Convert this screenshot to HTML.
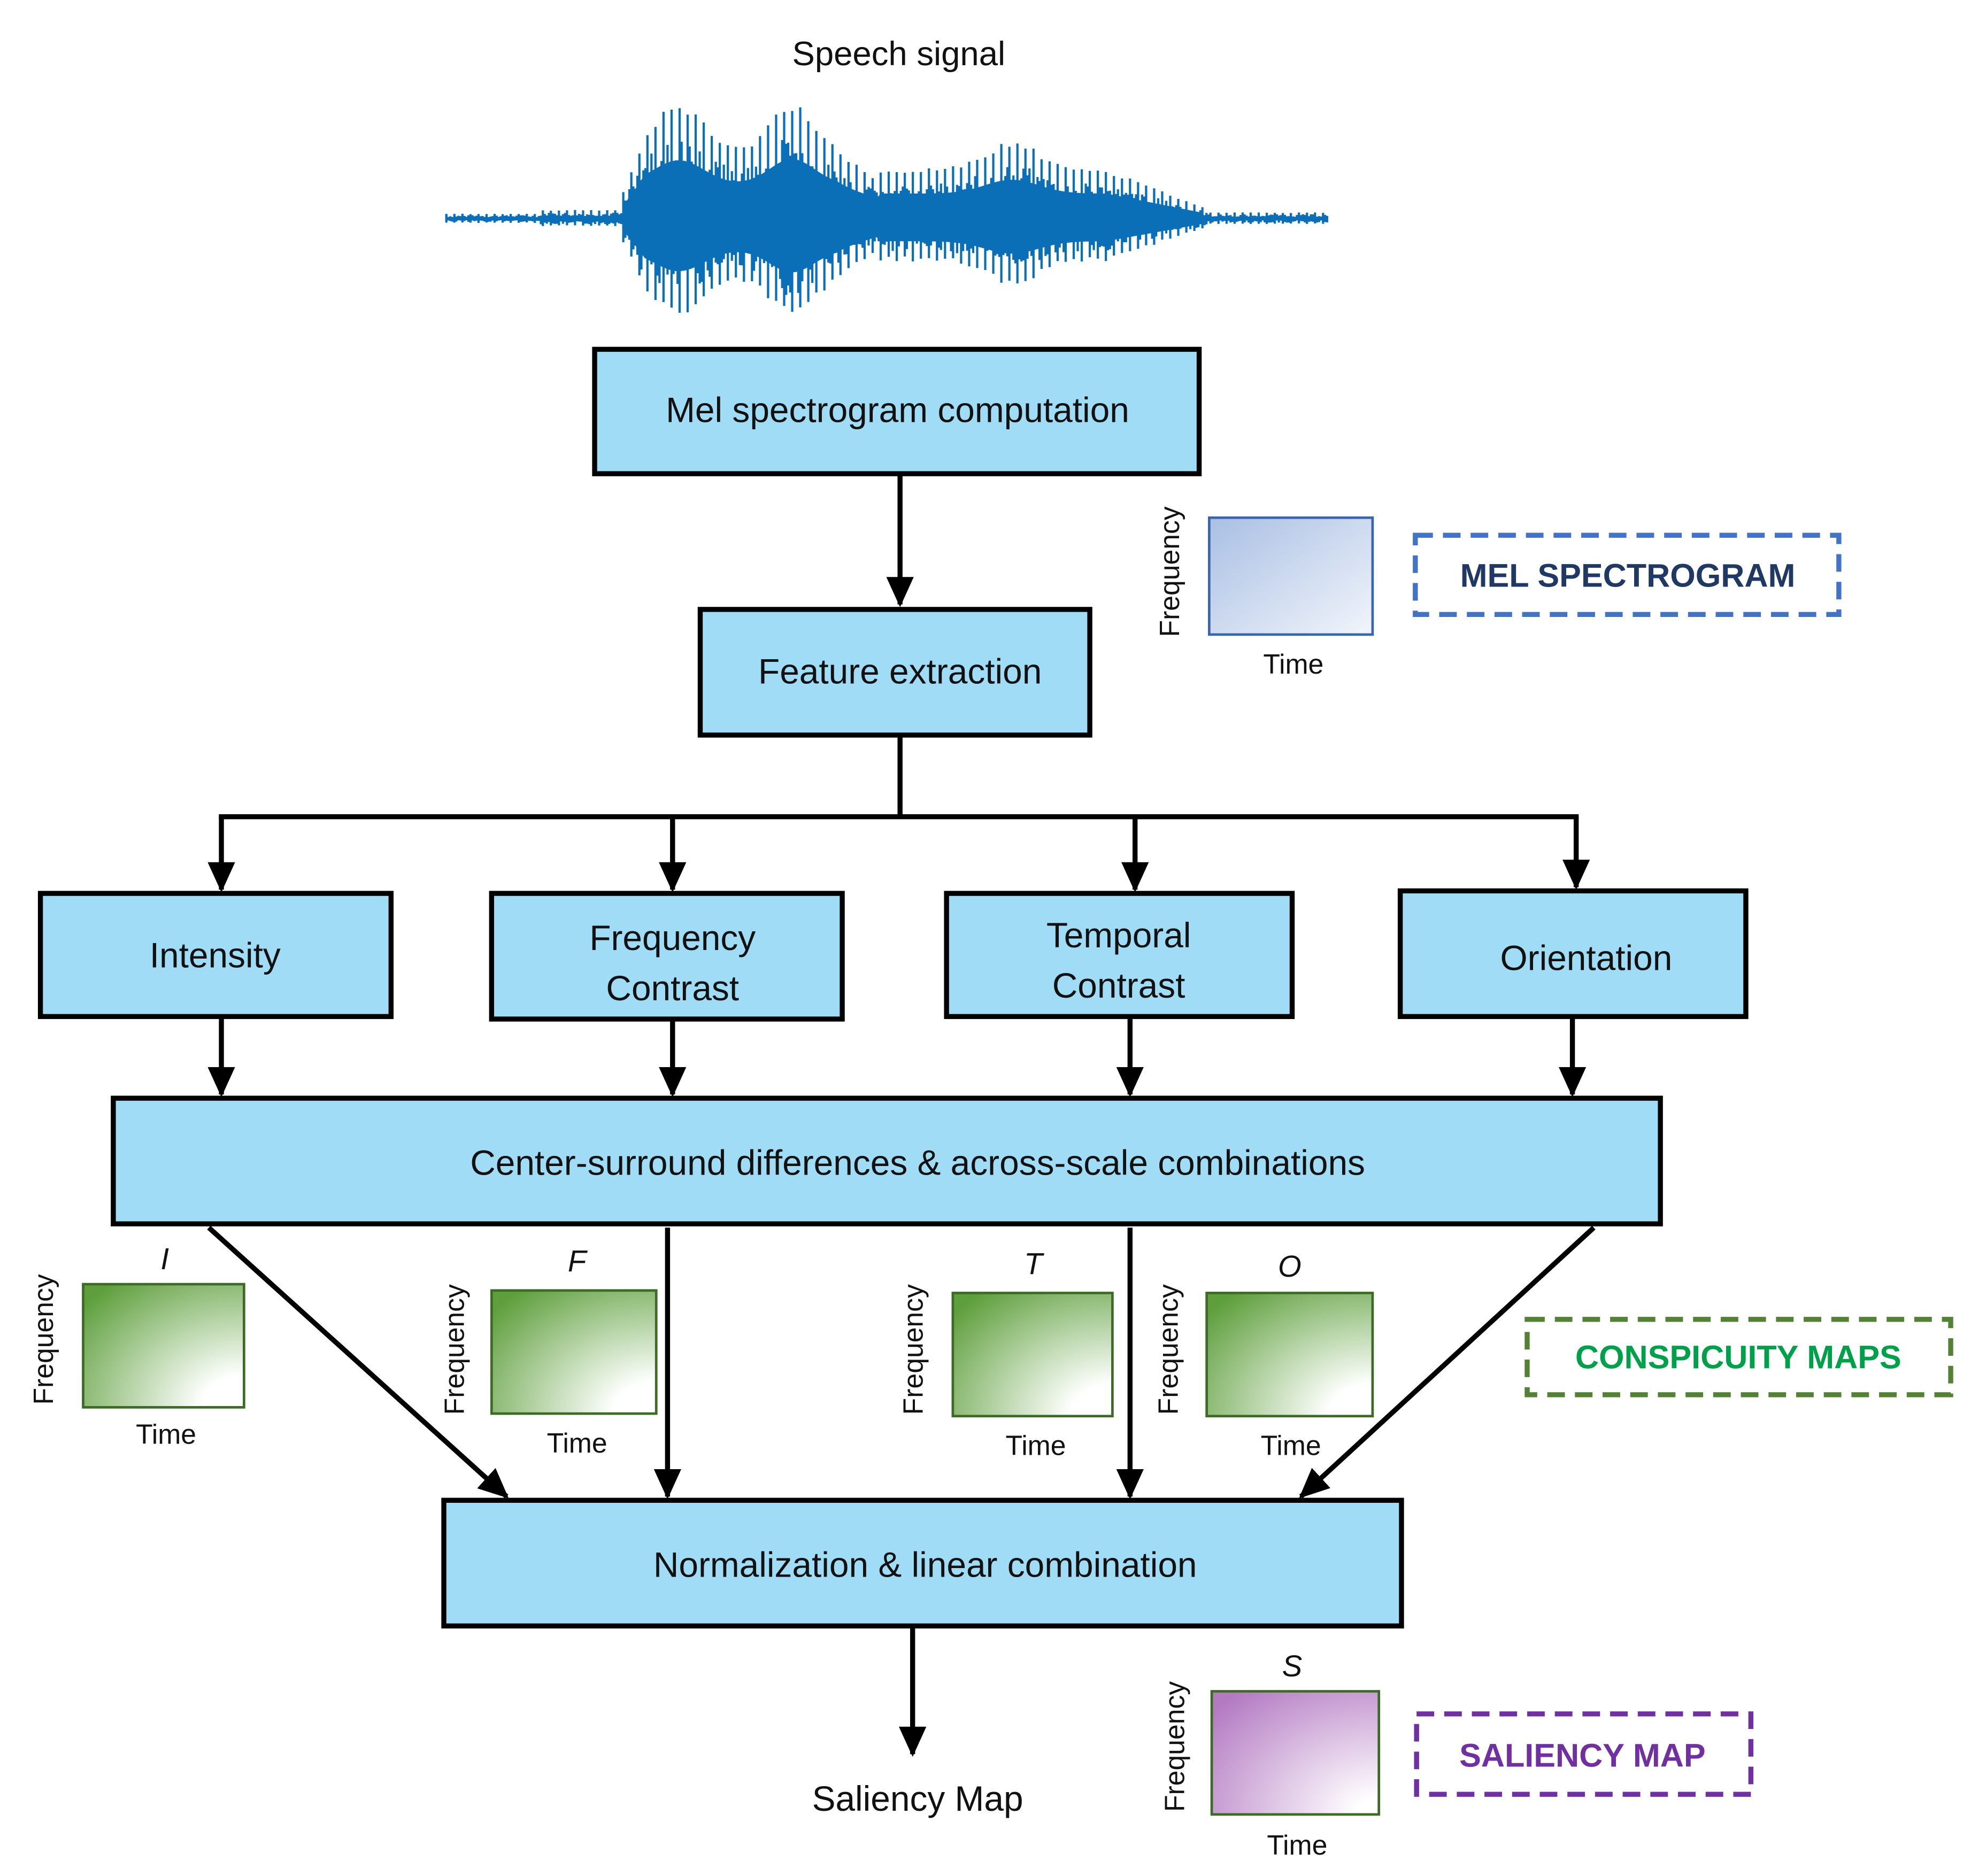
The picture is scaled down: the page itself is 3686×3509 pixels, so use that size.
<!DOCTYPE html>
<html><head><meta charset="utf-8"><style>
html,body{margin:0;padding:0;background:#fff}
svg{display:block}
text{font-family:"Liberation Sans",sans-serif;fill:#111}
</style></head><body>
<svg id="s" width="3686" height="3509" viewBox="0 0 1568 1493" xmlns="http://www.w3.org/2000/svg">
<defs>
<marker id="a" markerWidth="24" markerHeight="24" refX="20" refY="10" orient="auto" markerUnits="userSpaceOnUse" viewBox="0 0 22 20">
<path d="M0,0 L22,10 L0,20 z" fill="#000"/></marker>
<linearGradient id="gb" x1="0" y1="0" x2="1" y2="1"><stop offset="0" stop-color="#a9bfe3"/><stop offset="1" stop-color="#f2f5fb"/></linearGradient>
<radialGradient id="gg" cx="1" cy="1" r="1.3"><stop offset="0.2" stop-color="#ffffff"/><stop offset="1" stop-color="#5e9e3c"/></radialGradient>
<radialGradient id="gp" cx="1" cy="1" r="1.3"><stop offset="0.1" stop-color="#ffffff"/><stop offset="1" stop-color="#b37ac2"/></radialGradient>
</defs>
<text x="715" y="52" font-size="27" text-anchor="middle">Speech signal</text>
<g id="wave" stroke="#0b6fb8" stroke-width="1.8"></g>
<g stroke="#000" stroke-width="4" fill="#a0dcf6">
<rect x="473" y="278" width="481" height="99"/>
<rect x="557" y="485" width="310" height="100"/>
<rect x="32" y="711" width="279" height="98"/>
<rect x="391" y="711" width="279" height="100"/>
<rect x="753" y="711" width="275" height="98"/>
<rect x="1114" y="709" width="275" height="100"/>
<rect x="90" y="874" width="1231" height="100"/>
<rect x="353" y="1194" width="762" height="100"/>
</g>
<g stroke="#000" stroke-width="4" fill="none">
<line x1="716" y1="377" x2="716" y2="481" marker-end="url(#a)"/>
<polyline points="716,585 716,650"/>
<line x1="174" y1="650" x2="1256" y2="650"/>
<line x1="176" y1="650" x2="176" y2="708" marker-end="url(#a)"/>
<line x1="535" y1="650" x2="535" y2="708" marker-end="url(#a)"/>
<line x1="903" y1="650" x2="903" y2="708" marker-end="url(#a)"/>
<line x1="1254" y1="650" x2="1254" y2="706" marker-end="url(#a)"/>
<line x1="176" y1="809" x2="176" y2="871" marker-end="url(#a)"/>
<line x1="535" y1="811" x2="535" y2="871" marker-end="url(#a)"/>
<line x1="899" y1="809" x2="899" y2="871" marker-end="url(#a)"/>
<line x1="1251" y1="809" x2="1251" y2="871" marker-end="url(#a)"/>
<line x1="166" y1="977" x2="403" y2="1191" marker-end="url(#a)"/>
<line x1="531" y1="977" x2="531" y2="1191" marker-end="url(#a)"/>
<line x1="899" y1="977" x2="899" y2="1191" marker-end="url(#a)"/>
<line x1="1268" y1="977" x2="1035" y2="1191" marker-end="url(#a)"/>
<line x1="726" y1="1294" x2="726" y2="1396" marker-end="url(#a)"/>
</g>
<g font-size="28" text-anchor="middle">
<text x="714" y="336">Mel spectrogram computation</text>
<text x="716" y="544">Feature extraction</text>
<text x="171" y="770">Intensity</text>
<text x="535" y="756">Frequency</text>
<text x="535" y="796">Contrast</text>
<text x="890" y="754">Temporal</text>
<text x="890" y="794">Contrast</text>
<text x="1262" y="772">Orientation</text>
<text x="730" y="935">Center-surround differences &amp; across-scale combinations</text>
<text x="736" y="1255">Normalization &amp; linear combination</text>
<text x="730" y="1441">Saliency Map</text>
</g>
<rect x="962" y="412" width="130" height="93" fill="url(#gb)" stroke="#3a66b0" stroke-width="2"/>
<text x="1029" y="536" font-size="22" text-anchor="middle">Time</text>
<text transform="translate(938,455) rotate(-90)" font-size="22" text-anchor="middle">Frequency</text>
<rect x="1126" y="426" width="337" height="63" fill="none" stroke="#4472c4" stroke-width="4" stroke-dasharray="14,8"/>
<text x="1295" y="467" font-size="26" font-weight="bold" text-anchor="middle" style="fill:#1f3864">MEL SPECTROGRAM</text>
<g stroke="#3d6b27" stroke-width="2" fill="url(#gg)">
<rect x="66" y="1022" width="128" height="98"/>
<rect x="391" y="1027" width="131" height="98"/>
<rect x="758" y="1029" width="127" height="98"/>
<rect x="960" y="1029" width="132" height="98"/>
</g>
<g font-size="24" font-style="italic" text-anchor="middle">
<text x="131" y="1010">I</text><text x="459" y="1012">F</text><text x="822" y="1014">T</text><text x="1026" y="1016">O</text>
<text x="1028" y="1334">S</text>
</g>
<g font-size="22" text-anchor="middle">
<text x="132" y="1149">Time</text><text x="459" y="1156">Time</text><text x="824" y="1158">Time</text><text x="1027" y="1158">Time</text>
<text x="1032" y="1476">Time</text>
<text transform="translate(42,1066) rotate(-90)">Frequency</text>
<text transform="translate(369,1074) rotate(-90)">Frequency</text>
<text transform="translate(734,1074) rotate(-90)">Frequency</text>
<text transform="translate(937,1074) rotate(-90)">Frequency</text>
<text transform="translate(942,1390) rotate(-90)">Frequency</text>
</g>
<rect x="1215" y="1050" width="337" height="60" fill="none" stroke="#548235" stroke-width="4" stroke-dasharray="14,8"/>
<text x="1383" y="1089" font-size="26" font-weight="bold" text-anchor="middle" style="fill:#00a04a">CONSPICUITY MAPS</text>
<rect x="964" y="1346" width="133" height="98" fill="url(#gp)" stroke="#3d6b27" stroke-width="2"/>
<rect x="1127" y="1364" width="266" height="64" fill="none" stroke="#7030a0" stroke-width="4" stroke-dasharray="14,8"/>
<text x="1259" y="1406" font-size="26" font-weight="bold" text-anchor="middle" style="fill:#7030a0">SALIENCY  MAP</text>
</svg>
<script>
(function(){
var g=document.getElementById('wave'),h='';
function env(x){
 if(x<495) return 4+(x>430?3:0);
 if(x<700){var a=55+38*Math.exp(-Math.pow((x-540)/28,2))+40*Math.exp(-Math.pow((x-630)/25,2)); if(x<512)a*=0.35+0.65*(x-495)/17; if(x>665)a-=(x-665)*0.7; return a;}
 if(x<960){var b=40+22*Math.exp(-Math.pow((x-805)/30,2)); if(x>880)b-=(x-880)*0.4; return Math.max(b,8);}
 return 5;
}
var s=7;function r(){s=(s*9301+49297)%233280;return s/233280;}
var i=0;
for(var x=355;x<=1057;x+=1.6,i++){
 var e=env(x),u,d;
 if(i%4==0){u=e*(0.9+0.1*r());d=e*(0.75+0.1*r());}
 else{u=e*(0.3+0.4*r());d=e*(0.3+0.35*r());}
 h+='<line x1="'+x.toFixed(1)+'" y1="'+(174-u).toFixed(1)+'" x2="'+x.toFixed(1)+'" y2="'+(174+d).toFixed(1)+'"/>';
}
var top='',bot='';
for(var x=497;x<=958;x+=4){var e=env(x)*0.5;top+=(top?' L':'M')+x+','+(174-e).toFixed(1);bot=' L'+x+','+(174+e*0.9).toFixed(1)+bot;}
h+='<path d="'+top+bot+' z" fill="#0b6fb8" stroke="none"/>';
g.innerHTML=h;
})();
</script>
</body></html>
